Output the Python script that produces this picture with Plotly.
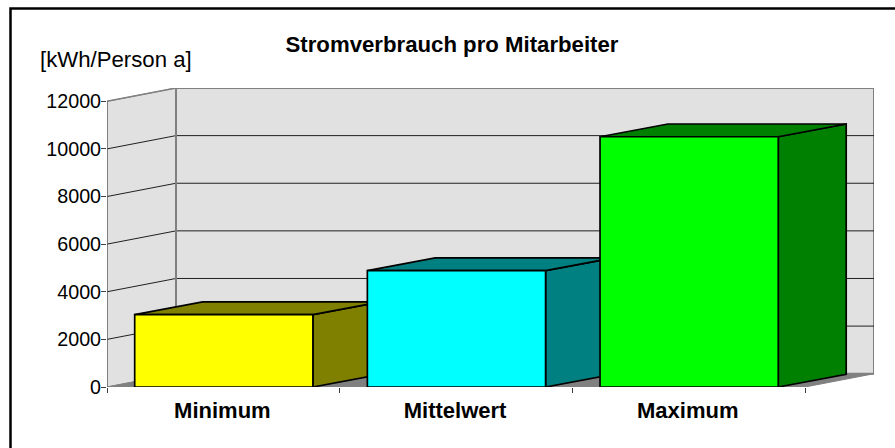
import plotly.graph_objects as go

categories = ["Minimum", "Mittelwert", "Maximum"]
values = [3040, 4890, 10510]
front_colors = ["#ffff00", "#00ffff", "#00ff00"]
shade_colors = ["#808000", "#008080", "#008000"]
y_ticks = [0, 2000, 4000, 6000, 8000, 10000, 12000]
title_text = "Stromverbrauch pro Mitarbeiter"
unit_text = "[kWh/Person a]"

W, H = 895, 448
ML, MR, MT, MB = 107, 21, 88, 61
WALL_DX, WALL_DY = 0.2965, 558
BAR_DX, BAR_DY = 0.292, 535
BAR_W = 0.766
LABEL_SHIFT = -0.006
N = len(categories)
X_MAX = N + WALL_DX
Y_MAX = y_ticks[-1] + WALL_DY
centres = [i + 0.5 + 0.002 for i in range(N)]
WALL, GREY, FLOOR = "#e1e1e1", "#808080", "#808080"
FONT = "Liberation Sans, Arial, sans-serif"


def px_x(p):
    return (p - ML) / (W - ML - MR)


def px_y(p):
    return (H - MB - p) / (H - MT - MB)


def poly(xs, ys, fill, line, width):
    return go.Scatter(x=xs, y=ys, mode="lines", fill="toself", fillcolor=fill,
                      line=dict(color=line, width=width), hoverinfo="skip",
                      showlegend=False)


def seg(xs, ys, color, width):
    return go.Scatter(x=xs, y=ys, mode="lines", line=dict(color=color, width=width),
                      hoverinfo="skip", showlegend=False)


fig = go.Figure()
top = y_ticks[-1]
# walls and floor
fig.add_trace(poly([0, 0, WALL_DX, WALL_DX, 0], [0, top, top + WALL_DY, WALL_DY, 0], WALL, GREY, 1))
fig.add_trace(poly([WALL_DX, WALL_DX, X_MAX, X_MAX, WALL_DX],
                   [WALL_DY, top + WALL_DY, top + WALL_DY, WALL_DY, WALL_DY], WALL, GREY, 2))
fig.add_trace(poly([0, N, X_MAX, WALL_DX, 0], [0, 0, WALL_DY, WALL_DY, 0], FLOOR, GREY, 1))
# gridlines
for t in y_ticks[1:-1]:
    fig.add_trace(seg([0, WALL_DX, X_MAX], [t, t + WALL_DY, t + WALL_DY], "#202020", 1))
fig.add_trace(seg([0, WALL_DX, X_MAX], [top, top + WALL_DY, top + WALL_DY], GREY, 1.5))
fig.add_trace(seg([WALL_DX, WALL_DX], [WALL_DY, top + WALL_DY], GREY, 2))
fig.add_trace(seg([0, 0], [0, top], "#606060", 1.2))

# depth faces
for c, v, shade in zip(centres, values, shade_colors):
    l, r = c - BAR_W / 2, c + BAR_W / 2
    fig.add_trace(poly([r, r + BAR_DX, r + BAR_DX, r, r],
                       [0, BAR_DY, v + BAR_DY, v, 0], shade, "#000000", 1.7))
    fig.add_trace(poly([l, l + BAR_DX, r + BAR_DX, r, l],
                       [v, v + BAR_DY, v + BAR_DY, v, v], shade, "#000000", 1.7))

# front faces in an overlaid subplot, so they cover the neighbouring depth faces
fig.add_trace(go.Bar(x=centres, y=values, width=BAR_W, xaxis="x2", yaxis="y2",
                     marker=dict(color=front_colors, line=dict(color="#000000", width=1.7)),
                     hovertext=categories, showlegend=False))

fig.update_layout(
    width=W, height=H, autosize=False, paper_bgcolor="#ffffff", plot_bgcolor="rgba(0,0,0,0)",
    margin=dict(l=ML, r=MR, t=MT, b=MB, pad=0),
    font=dict(family=FONT, color="#000000"),
    showlegend=False,
    title=dict(text=title_text, font=dict(size=22.2, family=FONT, color="#000000", weight="bold"),
               x=452 / W, xanchor="center", y=1 - 44 / H, yanchor="middle"),
    xaxis=dict(range=[0, X_MAX], tickmode="array", tickvals=[c + LABEL_SHIFT for c in centres],
               ticktext=[f"<b>{c}</b>" for c in categories],
               ticks="", showgrid=False, zeroline=False, showline=False, ticklabelstandoff=8,
               tickfont=dict(size=22, family=FONT, color="#000000"),
               minor=dict(tickmode="array", tickvals=list(range(N + 1)), ticks="outside",
                          ticklen=5, tickwidth=1, tickcolor="#404040", showgrid=False)),
    yaxis=dict(range=[0, Y_MAX], tickmode="array", tickvals=y_ticks, ticktext=[str(t) for t in y_ticks],
               ticks="outside", ticklen=5, ticklabelstandoff=-4,
               tickwidth=1, tickcolor="#404040", showgrid=False, zeroline=False, showline=False,
               tickfont=dict(size=19.7, family=FONT, color="#000000")),
    xaxis2=dict(range=[0, X_MAX], overlaying="x", visible=False),
    yaxis2=dict(range=[0, Y_MAX], overlaying="y", visible=False),
    annotations=[dict(text=unit_text, xref="paper", yref="paper", x=px_x(37.5), y=px_y(59),
                      xanchor="left", yanchor="middle", showarrow=False,
                      font=dict(size=22.2, family=FONT, color="#000000"))],
    shapes=[dict(type="rect", xref="paper", yref="paper", x0=px_x(10.5), x1=px_x(910),
                 y0=px_y(470), y1=px_y(8.5), line=dict(color="#000000", width=2.5),
                 fillcolor="rgba(0,0,0,0)", layer="below")],
)

fig.write_html("out.html", config=dict(displayModeBar=False),
               post_script="document.body.style.margin='0';document.body.style.overflow='hidden';")
